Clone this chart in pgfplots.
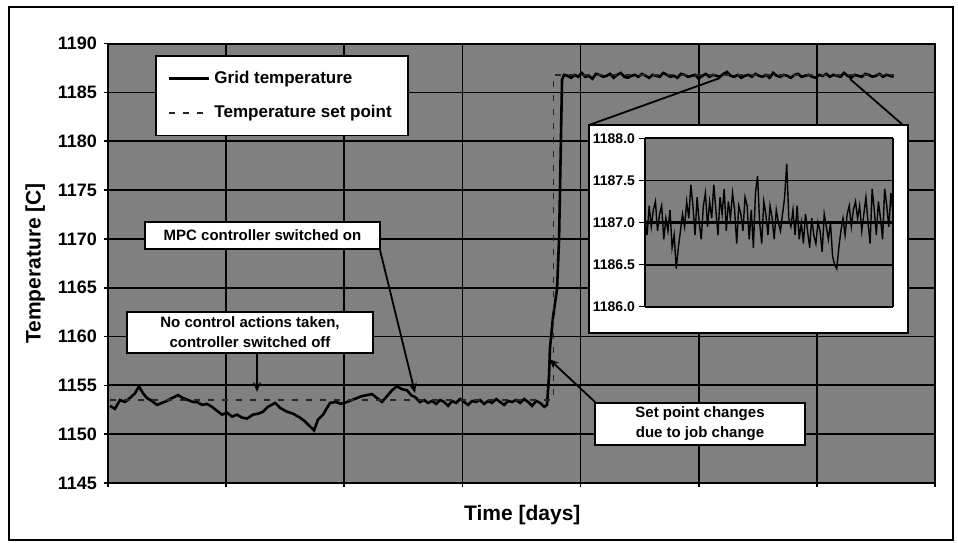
\documentclass[border=0pt]{standalone}
\usepackage{fontspec}
\setmainfont{Liberation Sans}
\usepackage{pgfplots}
\pgfplotsset{compat=1.18}
\usetikzlibrary{arrows.meta}

\definecolor{plotgray}{gray}{0.50}

\tikzset{
  note/.style={draw=black, fill=white, line width=0.9pt, align=center, inner sep=0pt,
    font=\fontsize{7.5}{10}\selectfont\bfseries},
  arr/.style={line width=0.9pt, -{Stealth[length=5pt,width=4pt]}}
}

\begin{document}
\begin{tikzpicture}

% main chart
\begin{axis}[
    name=main, at={(0,0)}, anchor=south west,
    scale only axis, width=413.5pt, height=219.7pt,
    xmin=0, xmax=7, ymin=1145, ymax=1190,
    xtick={0,1,...,7}, xticklabels={},
    ytick={1145,1150,...,1190},
    grid=major, grid style={black, line width=0.9pt},
    axis line style={black, line width=0.9pt},
    tick style={black, line width=0.8pt},
    tick align=outside, major tick length=2pt, tick pos=left,
    axis background/.style={fill=plotgray},
    /pgf/number format/1000 sep={},
    /pgf/number format/assume math mode=true,
    tick label style={font=\fontsize{9}{10}\selectfont\bfseries},
    xlabel={Time [days]}, ylabel={Temperature [C]},
    label style={font=\fontsize{10.5}{12}\selectfont\bfseries},
    xlabel style={at={(axis description cs:0.501,-0.073)}, anchor=center},
    ylabel style={at={(axis description cs:-0.088,0.5)}, anchor=center},
    legend image code/.code={\draw[#1] (0pt,0pt) -- (20pt,0pt);},
    legend cell align=left,
    legend style={at={(0.0568,0.974)}, anchor=north west, fill=white, draw=black,
      line width=0.9pt, font=\fontsize{8.5}{10}\selectfont\bfseries,
      inner xsep=6pt, inner ysep=5.5pt, row sep=5.5pt},
]
\addplot[black, line width=1.3pt] coordinates {
    (0.017,1152.9) (0.059,1152.6) (0.102,1153.5) (0.144,1153.3) (0.186,1153.7)
    (0.229,1154.2) (0.262,1154.9) (0.296,1154.2) (0.330,1153.7) (0.372,1153.4)
    (0.415,1153.0) (0.457,1153.2) (0.499,1153.4) (0.542,1153.7) (0.593,1154.0)
    (0.635,1153.7) (0.677,1153.5) (0.720,1153.3) (0.753,1153.3) (0.796,1153.0)
    (0.838,1153.1) (0.880,1152.8) (0.923,1152.4) (0.965,1152.0) (1.007,1152.2)
    (1.050,1151.8) (1.092,1152.0) (1.134,1151.7) (1.177,1151.6) (1.227,1152.0)
    (1.270,1152.1) (1.312,1152.3) (1.354,1152.8) (1.414,1153.2) (1.456,1152.7)
    (1.515,1152.3) (1.566,1152.1) (1.625,1151.7) (1.668,1151.3) (1.701,1150.9)
    (1.744,1150.4) (1.778,1151.5) (1.820,1152.0) (1.879,1153.2) (1.930,1153.3)
    (1.972,1153.1) (2.023,1153.3) (2.065,1153.5) (2.108,1153.7) (2.150,1153.9)
    (2.192,1154.0) (2.235,1154.1) (2.277,1153.7) (2.319,1153.3) (2.362,1153.9)
    (2.404,1154.5) (2.446,1154.9) (2.489,1154.6) (2.531,1154.5) (2.565,1154.0)
    (2.599,1153.8) (2.641,1153.3)
    (2.675,1153.5) (2.709,1153.2) (2.743,1153.4) (2.777,1153.1) (2.811,1153.5)
    (2.845,1153.3) (2.878,1152.9) (2.912,1153.4) (2.946,1153.2) (2.980,1153.6)
    (3.014,1153.3) (3.048,1153.0) (3.082,1153.4) (3.116,1153.3) (3.149,1153.5)
    (3.183,1153.1) (3.217,1153.4) (3.251,1153.2) (3.285,1153.6) (3.319,1153.3)
    (3.353,1153.0) (3.387,1153.4) (3.420,1153.3) (3.454,1153.5) (3.488,1153.2)
    (3.522,1153.6) (3.556,1153.3) (3.590,1152.9) (3.624,1153.4) (3.658,1153.2)
    (3.692,1152.8)
    (3.716,1153.0) (3.733,1156.0) (3.741,1158.8) (3.767,1162.0) (3.801,1164.9)
    (3.818,1170.0) (3.826,1175.2) (3.835,1181.0) (3.843,1186.3) (3.860,1186.8)
    (3.89,1186.7) (3.92,1186.5) (3.95,1186.8) (3.98,1186.6) (4.01,1187.0)
    (4.04,1186.6) (4.07,1186.7) (4.10,1186.4) (4.13,1186.9) (4.16,1186.8)
    (4.19,1186.6) (4.22,1186.7) (4.25,1186.9) (4.28,1186.5) (4.31,1186.8)
    (4.34,1187.0) (4.37,1186.6) (4.40,1186.5) (4.43,1186.7) (4.46,1186.8)
    (4.49,1186.6) (4.52,1186.9) (4.55,1186.7) (4.58,1186.5) (4.61,1186.8)
    (4.64,1186.7) (4.67,1186.6) (4.70,1187.0) (4.73,1186.8) (4.76,1186.6)
    (4.79,1186.7) (4.82,1186.5) (4.85,1186.9) (4.88,1186.8) (4.91,1186.6)
    (4.94,1186.7) (4.97,1186.8) (5.00,1186.4) (5.03,1186.7) (5.06,1186.9)
    (5.09,1186.6) (5.12,1186.8) (5.15,1186.7) (5.18,1186.6) (5.21,1186.9)
    (5.24,1187.1) (5.27,1186.7) (5.30,1186.6) (5.33,1186.8) (5.36,1186.5)
    (5.39,1186.7) (5.42,1186.8) (5.45,1186.6) (5.48,1186.9) (5.51,1186.7)
    (5.54,1186.6) (5.57,1186.8) (5.60,1186.5) (5.63,1187.0) (5.66,1186.7)
    (5.69,1186.6) (5.72,1186.8) (5.75,1186.7) (5.78,1186.5) (5.81,1186.8)
    (5.84,1186.9) (5.87,1186.6) (5.90,1186.7) (5.93,1186.8) (5.96,1186.6)
    (5.99,1186.5) (6.02,1186.8) (6.05,1186.7) (6.08,1186.9) (6.11,1186.6)
    (6.14,1186.8) (6.17,1186.7) (6.20,1186.6) (6.23,1187.0) (6.26,1186.7)
    (6.29,1186.5) (6.32,1186.8) (6.35,1186.7) (6.38,1186.6) (6.41,1186.9)
    (6.44,1186.8) (6.47,1186.6) (6.50,1186.7) (6.53,1186.9) (6.56,1186.6)
    (6.59,1186.8) (6.62,1186.7) (6.65,1186.6)
};
\addlegendentry{Grid temperature}
\addplot[black!85, line width=0.9pt, dash pattern=on 3pt off 4pt] coordinates {
    (0.017,1153.5) (3.77,1153.5) (3.77,1186.8) (6.65,1186.8)
};
\addlegendentry{Temperature set point}
\end{axis}

% decorations, coordinates in pixels of the reference
\begin{scope}[shift={(-54pt,241.5pt)}, x=0.5pt, y=-0.5pt]
  \path (0,0) rectangle (958,542);
  \draw[line width=0.9pt] (9,7) rectangle (953,540);
  \draw[line width=0.9pt, fill=white] (589,125) rectangle (908,333);
  \draw[line width=0.9pt] (589,125) -- (720,78);
  \draw[line width=0.9pt] (903,125) -- (850,79);
  \node[note, minimum width=117.5pt, minimum height=13.5pt] at (262.5,235.5)
    {MPC controller switched on};
  \node[note, minimum width=123pt, minimum height=20.5pt] at (250,332.5)
    {No control actions taken,\\controller switched off};
  \node[note, minimum width=105pt, minimum height=21pt] at (700,424)
    {Set point changes\\due to job change};
  \draw[arr] (380,250) -- (415,393);
  \draw[arr] (257,353) -- (257,392);
  \draw[arr] (595,402) -- (549,359);
\end{scope}

% zoomed inset
\begin{axis}[
    at={(268.5pt,88.15pt)}, anchor=south west,
    scale only axis, width=124pt, height=84.2pt,
    xmin=0, xmax=119, ymin=1186, ymax=1188,
    xtick=\empty, ytick={1186,1186.5,...,1188},
    ymajorgrids, grid style={black, line width=0.9pt},
    axis line style={black, line width=0.7pt},
    tick style={black, line width=0.7pt},
    tick align=outside, major tick length=3pt, ytick pos=left,
    axis background/.style={fill=plotgray},
    /pgf/number format/fixed, /pgf/number format/fixed zerofill,
    /pgf/number format/precision=1, /pgf/number format/1000 sep={},
    /pgf/number format/assume math mode=true,
    tick label style={font=\fontsize{7}{8}\selectfont\bfseries},
    yticklabel style={xshift=1.5pt},
]
\addplot[black, line width=0.7pt] coordinates {
    (0,1187.05) (1,1186.85) (2,1187.20) (3,1186.95) (4,1187.15) (5,1187.25)
    (6,1186.90) (7,1187.10) (8,1187.20) (9,1186.80) (10,1187.05) (11,1186.90)
    (12,1187.15) (13,1186.70) (14,1186.85) (15,1186.45) (16,1186.70) (17,1186.90)
    (18,1187.10) (19,1186.95) (20,1187.25) (21,1187.05) (22,1187.45) (23,1187.20)
    (24,1186.85) (25,1187.30) (26,1187.00) (27,1186.80) (28,1187.20) (29,1187.35)
    (30,1186.95) (31,1187.25) (32,1187.05) (33,1187.45) (34,1187.15) (35,1186.85)
    (36,1187.30) (37,1187.10) (38,1187.40) (39,1186.90) (40,1187.25) (41,1187.05)
    (42,1187.35) (43,1187.15) (44,1186.75) (45,1187.20) (46,1187.10) (47,1186.90)
    (48,1187.30) (49,1187.20) (50,1186.80) (51,1187.15) (52,1186.70) (53,1187.35)
    (54,1187.55) (55,1187.00) (56,1186.75) (57,1187.25) (58,1187.10) (59,1186.85)
    (60,1187.20) (61,1187.05) (62,1186.80) (63,1187.15) (64,1187.00) (65,1186.90)
    (66,1187.10) (67,1187.30) (68,1187.70) (69,1187.05) (70,1186.95) (71,1187.15)
    (72,1186.85) (73,1187.20) (74,1186.80) (75,1187.00) (76,1186.75) (77,1187.10)
    (78,1186.90) (79,1186.70) (80,1187.05) (81,1186.85) (82,1186.75) (83,1187.00)
    (84,1186.90) (85,1186.65) (86,1187.10) (87,1186.95) (88,1186.80) (89,1187.00)
    (90,1186.60) (91,1186.50) (92,1186.45) (93,1186.70) (94,1186.90) (95,1187.05)
    (96,1186.85) (97,1187.10) (98,1187.20) (99,1186.95) (100,1187.15) (101,1187.25)
    (102,1187.05) (103,1187.20) (104,1186.90) (105,1187.10) (106,1187.30) (107,1187.00)
    (108,1186.75) (109,1187.40) (110,1187.15) (111,1186.85) (112,1187.25) (113,1187.05)
    (114,1186.80) (115,1187.40) (116,1187.20) (117,1186.95) (118,1187.35) (119,1187.10)
};
\addplot[black, line width=1.3pt] coordinates {(0,1187.0) (119,1187.0)};
\end{axis}

\end{tikzpicture}
\end{document}
